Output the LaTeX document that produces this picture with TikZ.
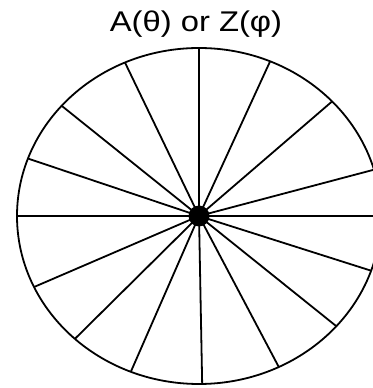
\documentclass[tikz,border=0pt]{standalone}
\usepackage{fontspec}
\setmainfont{Liberation Sans}
\usepackage{tikz}
\usetikzlibrary{calc}

\begin{document}
\begin{tikzpicture}[
  x=1pt,y=1pt,
  rim/.style={draw=black,line width=1.8pt},
  spoke/.style={draw=black,line width=1.8pt},
  title/.style={anchor=base,inner sep=0pt,font=\fontsize{28.5}{31}\selectfont}
]
\path[use as bounding box] (0,0) rectangle (372,388);
\coordinate (hub) at (199,172);
\node[title] (label) at (196,356) {\scalebox{1.15}[1]{A(θ) or Z(φ)}};
\path[rim] (hub) ellipse [x radius=182,y radius=168];
\foreach \a in {90,67,43,16,0,-19,-41,-64,-89,-112,-133,-155,180,160,139,114}
  \path[spoke] (hub) -- ($(hub)+(\a:182 and 168)$);
\fill[black] (hub) circle (10.5);
\end{tikzpicture}
\end{document}
